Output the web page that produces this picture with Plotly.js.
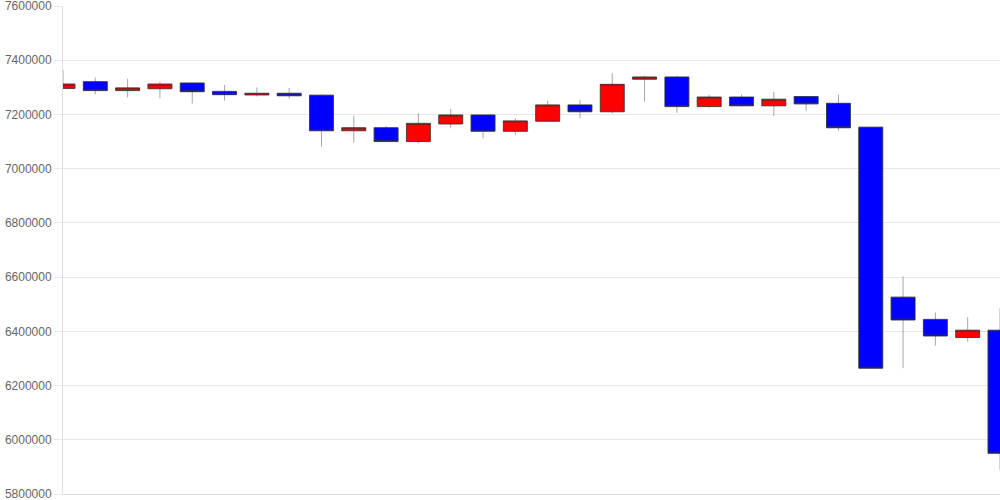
<!DOCTYPE html>
<html>
<head>
<meta charset="utf-8">
<script src="https://cdn.plot.ly/plotly-3.0.1.min.js"></script>
<style>html,body{margin:0;padding:0;background:#fff;}#chart{width:1000px;height:500px;}</style>
</head>
<body>
<div id="chart"></div>
<script>
const idx = [0,1,2,3,4,5,6,7,8,9,10,11,12,13,14,15,16,17,18,19,20,21,22,23,24,25,26,27,28,29];
const openVals  = [7296000,7321000,7288000,7295000,7316000,7285000,7272000,7278000,7271000,7140000,7151000,7100000,7165000,7198000,7138000,7175000,7235000,7210000,7330000,7338000,7229000,7264000,7232000,7266000,7241000,7153000,6526000,6444000,6377000,6404000];
const highVals  = [7364000,7336000,7331000,7321000,7317000,7309000,7300000,7298000,7274000,7195000,7157000,7204000,7220000,7198000,7186000,7250000,7253000,7352000,7342000,7342000,7273000,7273000,7283000,7266000,7273000,7153000,6602000,6470000,6452000,6485000];
const lowVals   = [7294000,7274000,7263000,7260000,7240000,7251000,7266000,7258000,7081000,7096000,7100000,7094000,7149000,7112000,7125000,7174000,7186000,7204000,7247000,7206000,7225000,7229000,7195000,7214000,7140000,6264000,6264000,6347000,6362000,5889000];
const closeVals = [7312000,7288000,7298000,7312000,7284000,7273000,7278000,7269000,7140000,7151000,7100000,7167000,7198000,7138000,7176000,7235000,7210000,7311000,7338000,7229000,7264000,7232000,7256000,7239000,7151000,6264000,6442000,6383000,6404000,5950000];

const bodyTop = openVals.map((o,i)=>Math.max(o, closeVals[i]));
const bodyBot = openVals.map((o,i)=>Math.min(o, closeVals[i]));

const wicks = {
  type:'candlestick', x: idx, open: openVals, high: highVals, low: lowVals, close: closeVals,
  increasing:{line:{color:'rgba(0,0,0,0.35)', width:1}, fillcolor:'rgba(0,0,0,0)'},
  decreasing:{line:{color:'rgba(0,0,0,0.35)', width:1}, fillcolor:'rgba(0,0,0,0)'},
  whiskerwidth:0, hoverinfo:'skip', showlegend:false
};
const bodies = {
  type:'candlestick', x: idx, open: openVals, high: bodyTop, low: bodyBot, close: closeVals,
  increasing:{line:{color:'rgba(50,50,50,0.7)', width:1}, fillcolor:'#ff0000'},
  decreasing:{line:{color:'rgba(50,50,50,0.7)', width:1}, fillcolor:'#0000ff'},
  whiskerwidth:0, hoverinfo:'skip', showlegend:false
};

const layout = {
  width:1000, height:500,
  margin:{l:63, r:0, t:6, b:6, pad:0},
  paper_bgcolor:'#fff', plot_bgcolor:'#fff',
  showlegend:false,
  boxgap:0.26, boxgroupgap:0,
  xaxis:{range:[0,29], showticklabels:false, showgrid:false, zeroline:false,
         showline:true, linecolor:'#e0e0e0', linewidth:1, mirror:false, side:'bottom',
         rangeslider:{visible:false}, fixedrange:true, ticks:''},
  yaxis:{range:[5800000,7600000], dtick:200000, tick0:5800000, tickformat:'d',
         showgrid:true, gridcolor:'#e8e8e8', gridwidth:1, zeroline:false,
         showline:true, linecolor:'#e0e0e0', linewidth:1,
         ticks:'outside', ticklen:8, tickcolor:'#e8e8e8', tickwidth:1,
         ticklabeloverflow:'allow',
         tickfont:{family:'Liberation Sans, Arial, sans-serif', size:12, color:'#666'},
         fixedrange:true}
};

Plotly.newPlot('chart', [wicks, bodies], layout, {staticPlot:true, displayModeBar:false});
</script>
</body>
</html>
